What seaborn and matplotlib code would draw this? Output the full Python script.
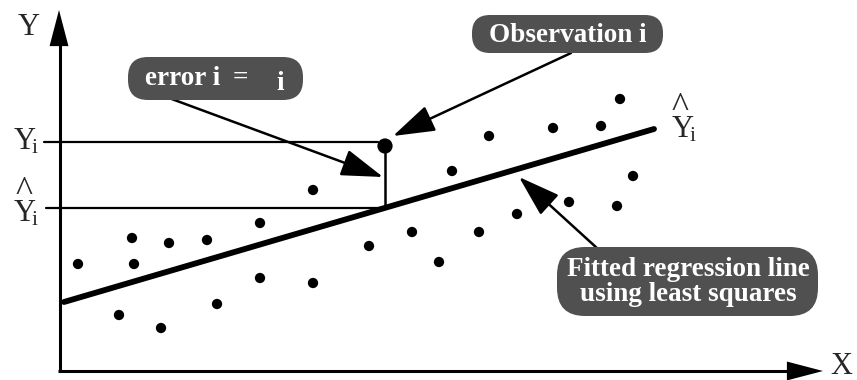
import matplotlib
matplotlib.use("Agg")
import matplotlib.pyplot as plt
from matplotlib.patches import FancyBboxPatch
import seaborn as sns
import pandas as pd

sns.set_theme(style="white")
plt.rcParams['font.family'] = ['Liberation Serif', 'DejaVu Serif']
plt.rcParams['mathtext.fontset'] = 'custom'
plt.rcParams['mathtext.rm'] = 'Liberation Serif'
plt.rcParams['mathtext.it'] = 'Liberation Serif'

# ---- data (diagram units: x to the right, y downward as drawn) ----
obs_x = [78, 119, 132, 134, 161, 169, 207, 217, 260, 260, 313, 313, 369,
         412, 439, 452, 479, 489, 517, 553, 569, 601, 617, 620, 633]
obs_y = [264, 315, 238, 264, 328, 243, 240, 304, 223, 278, 190, 283, 246,
         232, 262, 171, 232, 136, 214, 128, 202, 126, 206, 99, 176]
highlight_x = [385]
highlight_y = [146]
fit_x = [64, 654]
fit_y = [302, 129]
yhat_i = 208
bubble_texts = ["error i", "=", "i", "Observation i",
                "Fitted regression line\nusing least squares"]

df = pd.DataFrame({"x": obs_x, "y": obs_y})
df_fit = pd.DataFrame({"x": fit_x, "y": fit_y})
df_hi = pd.DataFrame({"x": highlight_x, "y": highlight_y})

fig = plt.figure(figsize=(8.57, 3.80), dpi=100)
ax = fig.add_axes([0, 0, 1, 1])

# regression line and points
sns.lineplot(data=df_fit, x="x", y="y", ax=ax, color="black", lw=4.2)
sns.scatterplot(data=df, x="x", y="y", ax=ax, color="black", s=55,
                edgecolor="none", zorder=5)
sns.scatterplot(data=df_hi, x="x", y="y", ax=ax, color="black", s=120,
                edgecolor="none", zorder=5)
ax.set_xlim(0, 857)
ax.set_ylim(380, 0)
ax.set_xlabel("")
ax.set_ylabel("")
ax.axis("off")

# axes with arrows
ax.plot([60, 60], [372, 40], color="black", lw=2.2, solid_capstyle="butt")
ax.annotate("", xy=(59, 10), xytext=(59, 46),
            arrowprops=dict(arrowstyle="-|>,head_length=1.3,head_width=0.34",
                            mutation_scale=20, color="black", lw=0,
                            shrinkA=0, shrinkB=0))
ax.plot([58, 792], [371, 371], color="black", lw=2.2, solid_capstyle="butt")
ax.annotate("", xy=(823, 371), xytext=(786, 371),
            arrowprops=dict(arrowstyle="-|>,head_length=1.3,head_width=0.34",
                            mutation_scale=20, color="black", lw=0,
                            shrinkA=0, shrinkB=0))
ax.text(29, 35, "Y", fontsize=22, ha="center", va="baseline")
ax.text(841, 366, "X", fontsize=22, ha="center", va="center")

# guide lines
ax.plot([44, 378], [142, 142], color="black", lw=1.6)
ax.plot([46, 385], [yhat_i, yhat_i], color="black", lw=1.6)
ax.plot([385, 385], [146, yhat_i], color="black", lw=1.8)

# left labels
ysub = r"$\mathregular{Y\!_i}$"
ax.text(13, 150, ysub, fontsize=22, ha="left", va="baseline")
ax.text(24, 192, "^", fontsize=26, ha="center", va="center")
ax.text(13, 222, ysub, fontsize=22, ha="left", va="baseline")
# right label
ax.text(680, 108, "^", fontsize=26, ha="center", va="center")
ax.text(671, 138, ysub, fontsize=22, ha="left", va="baseline")

# bubbles
box_col = "#505050"
def bubble(x0, y0, x1, y1, r):
    p = FancyBboxPatch((x0 + r, y0 + r), (x1 - x0) - 2 * r, (y1 - y0) - 2 * r,
                       boxstyle=f"round,pad={r},rounding_size={r}",
                       fc=box_col, ec="none", zorder=3)
    ax.add_patch(p)

txt_kw = dict(fontsize=19.5, fontweight="bold", color="white", zorder=4)
bubble(128, 57, 303, 100, 20)
ax.text(145, 85, bubble_texts[0], ha="left", va="baseline", **txt_kw)
ax.text(240, 85, bubble_texts[1], ha="center", va="baseline", **txt_kw)
ax.text(280, 90, bubble_texts[2], ha="center", va="baseline", **txt_kw)

bubble(472, 15, 663, 53, 18)
ax.text(568, 35, bubble_texts[3], ha="center", va="center", **txt_kw)

bubble(557, 247, 818, 316, 28)
ax.text(688, 282, bubble_texts[4], ha="center", va="center",
        linespacing=1.05, **txt_kw)

# arrows
arrow_kw = dict(arrowstyle="-|>,head_length=1.3,head_width=0.42",
                mutation_scale=20, color="black", lw=1.8,
                shrinkA=0, shrinkB=0)
ax.annotate("", xy=(383, 177), xytext=(169, 98), arrowprops=arrow_kw, zorder=2)
ax.annotate("", xy=(393, 136), xytext=(571, 53), arrowprops=arrow_kw, zorder=2)
ax.annotate("", xy=(519, 177), xytext=(598, 249), arrowprops=arrow_kw, zorder=2)

fig.savefig("out.png", dpi=100)
